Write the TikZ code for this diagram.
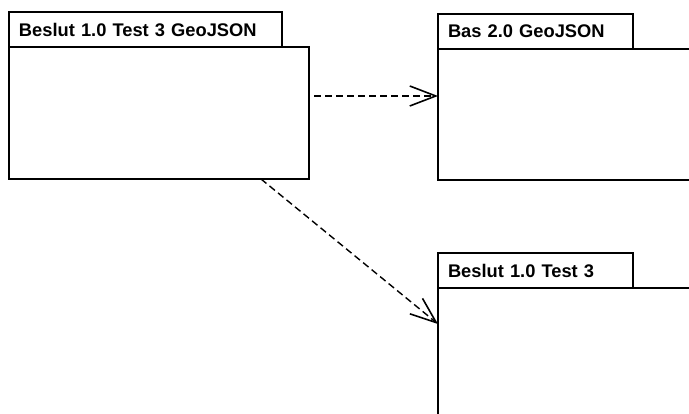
\documentclass[tikz,border=0pt]{standalone}
\usepackage{fontspec}
\setmainfont{Liberation Sans}
\usetikzlibrary{arrows.meta,positioning}

\begin{document}
\begin{tikzpicture}[x=1pt,y=-1pt,
  tab/.style={draw, line width=1.7pt, anchor=north west, outer sep=0pt, minimum height=35pt,
    inner xsep=10pt, align=left, font=\fontsize{18.3}{20}\selectfont\bfseries},
  pkg/.style={draw, line width=1.7pt, anchor=north west, outer sep=0pt},
  dep/.style={line width=1.4pt, dash pattern=on 7pt off 4pt,
    -{Straight Barb[length=26pt,width=20pt,line width=1.6pt]}}]
\useasboundingbox (0,0) rectangle (689,414);
\clip (0,0) rectangle (689,414);

\node[tab, text width=253pt] (t1) at (9,12) {Beslut 1.0 Test 3 GeoJSON};
\node[pkg, minimum width=300pt, minimum height=132pt] (p1) at (9,47) {};

\node[tab, text width=175pt] (t2) at (438,14) {Bas 2.0 GeoJSON};
\node[pkg, minimum width=270pt, minimum height=131pt] (p2) at (438,49) {};

\node[tab, text width=175pt] (t3) at (438,253) {Beslut 1.0 Test 3};
\node[pkg, minimum width=270pt, minimum height=140pt] (p3) at (438,288) {};

\coordinate[xshift=5pt, yshift=-49pt] (d1) at (p1.north east);
\draw[dep] (d1) -- (d1 -| p2.west);
\draw[dep] ([xshift=-48pt]p1.south east) -- ([yshift=-36pt]p3.north west);

\end{tikzpicture}
\end{document}
